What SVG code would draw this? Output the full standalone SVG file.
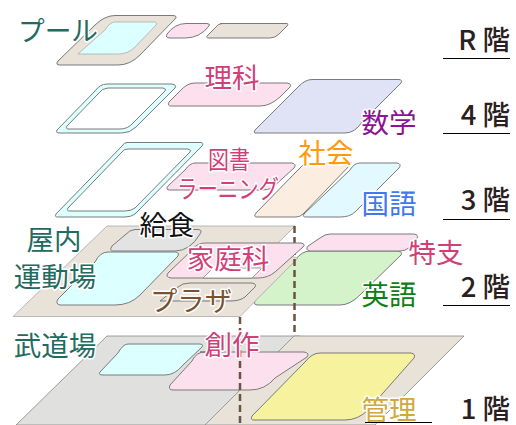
<svg xmlns="http://www.w3.org/2000/svg" width="516" height="425" viewBox="0 0 516 425">
<style>
.r{stroke:#7a7a7a;stroke-width:1;fill-rule:evenodd}
.b{fill:#e8e2d9}.p{fill:#fde0ee}.c{fill:#dcffff}.g{fill:#e3e3e3}
text{font-family:"Noto Sans CJK JP","Noto Sans",sans-serif;font-size:27.500px;paint-order:stroke;stroke:#fff;stroke-width:3px;stroke-linejoin:round}
.m{text-anchor:middle}
.t{fill:#226b60}.k{fill:#d13f78}
.s{font-size:25px}
.f{fill:#2a2020;text-anchor:end;stroke:none;font-weight:500}
.l{stroke:#000;stroke-width:1.200}
</style>
<g id="floor1">
<path fill="#e0e0de" stroke="#888" stroke-width=".8" d="M107,336H300V425H16Z"/>
<path class="b" stroke="#888" stroke-width=".8" d="M294,336H464L375,425H205Z"/>
</g>
<g id="budokan"><path class="r c" d="M128,344H199Q204,344 202,347L183,365Q175,375 165,375H103Q98,375 100,372L118,353Q123,344 128,344Z"/><text class="t m" x="55" y="356">武道場</text></g>
<g id="sosaku"><path class="r p" d="M200,352H304Q310,353 307,357L275,378Q265,390 250,390H173Q168,390 170,385L192,361Q196,352 205,352Z"/></g>
<g id="kanri"><path class="r" fill="#f6f29e" d="M320,353H411Q416,354 414,358L368,410Q358,420 345,420H254Q250,420 252,416L305,362Q312,353 320,353Z"/></g>
<g id="eigo"><path class="r" fill="#d5f3cb" d="M310,251H398Q403,252 401,255L360,295Q350,305 340,305H258Q253,305 255,301L295,260Q302,251 310,251Z"/></g>
<g id="floor2"><path class="b" stroke="#aaa" stroke-width=".8" d="M107,226H295L270,251L298,258L240,316.500H13Z"/></g>
<g id="connectors" fill="none" stroke="#6b5344" stroke-width="2.500" stroke-dasharray="7 4"><path d="M294.500,226V336"/><path d="M240,317V425"/></g>
<g id="kyushoku"><path class="r g" d="M135,229.500H198Q203,230 200,234Q190,251 175,251H113Q109,251 112,246L125,235Q130,229.500 135,229.500Z"/><text class="m" x="167" y="235" fill="#111">給食</text></g>
<g id="undojo"><path class="r c" d="M108,252H176Q180,253 178,256L140,295Q130,305 115,305H60Q55,304 58,299L95,262Q100,252 108,252Z"/><text class="t m" x="54" y="250">屋内</text><text class="t m" x="55" y="287">運動場</text></g>
<g id="katei"><path class="r p" d="M205,243H301Q306,244 303,247L275,272Q268,278 258,278H171Q165,277 168,273L192,250Q197,243 205,243Z"/><path fill="#fff" stroke="#777" stroke-width=".7" d="M203,278L213,268H262L252,278Z"/><text class="k m" x="228" y="269">家庭科</text></g>
<g id="plaza"><path class="r b" d="M190,283H252Q257,284 255,287L245,297Q240,301 230,301H160L178,287Q182,283 190,283Z"/><text x="150" y="311" textLength="82" lengthAdjust="spacingAndGlyphs" fill="#7a5230">プラザ</text></g>
<g id="tokushi"><path class="r p" d="M330,234H414Q419,235 417,238Q410,251 400,251H310Q305,250 308,246L320,238Q325,234 330,234Z"/><text class="k m" x="436" y="263">特支</text></g>
<g id="tosho"><path class="r p" d="M195,163H292Q297,164 294,168L272,188Q268,190 262,190H170Q165,190 168,186L185,170Q190,163 195,163Z"/><text class="k s" x="208" y="169" textLength="42" lengthAdjust="spacingAndGlyphs">図書</text><text class="k s" x="177" y="198" textLength="102" lengthAdjust="spacingAndGlyphs">ラーニング</text></g>
<g id="shakai"><path class="r" fill="#fbeee0" d="M305,163H352L303,214Q300,217 296,217H257Q253,217 256,213L296,172Z"/><text class="m" x="326" y="163" fill="#ff9a0a">社会</text></g>
<g id="kokugo"><path class="r" fill="#e2faff" d="M360,163H397Q402,164 399,168L355,212Q350,217 340,217H306Q302,217 304,214L350,170Q354,163 360,163Z"/><text class="m" x="389" y="214" fill="#3f78f0">国語</text></g>
<g id="ring3"><path class="r c" d="M127,142.500H201Q204,143 202,146L135,214Q131,217 125,217H58Q54,217 56,214L122,146Q124,142.500 127,142.500ZM128,149H188Q192,150 190,152L135,208Q131,211 125,211H70Q66,211 68,208L122,152Q124,149 128,149Z"/></g>
<g id="ring4"><path class="r c" d="M107,84H172Q177,85 175,88L136,127Q130,133 122,133H60Q55,133 57,130L95,91Q100,84 107,84ZM108,88H163Q167,89 165,91L133,123Q128,129 120,129H69Q65,129 67,126L98,94Q102,88 108,88Z"/></g>
<g id="rika"><path class="r p" d="M195,83H287Q292,84 290,87L280,97Q270,106 260,106H171Q167,106 169,102L180,91Q187,83 195,83Z"/><text class="k m" x="232" y="88">理科</text></g>
<g id="sugaku"><path class="r" fill="#e0e2f6" d="M312,79.500H399Q403,80 401,83L362,122Q355,133 345,133H255Q253,133 255,130L298,87Q305,79.500 312,79.500Z"/><text class="m" x="389" y="133" fill="#8a1590">数学</text></g>
<g id="pool"><path class="r b" d="M115,15.500H173Q178,16 175,19L140,55Q130,65 118,65H60Q55,65 58,61L95,25Q105,15.500 115,15.500Z"/><path class="c" stroke="#999" stroke-width=".6" d="M115,22H155Q158,23 156,25L135,47Q128,54 118,54H78L105,30Q110,22 115,22Z"/><text class="t" x="18" y="41" textLength="80" lengthAdjust="spacingAndGlyphs">プール</text></g>
<g id="poolp"><path class="r p" d="M186,23.500H207Q211,24 209,26Q200,38 185,38H170Q165,38 167,34Q175,23.500 186,23.500Z"/></g>
<g id="poolb"><path class="r b" d="M220,23.500H287Q289,24 287,26L279,34Q275,38 270,38H209Q205,38 208,35L215,28Q218,23.500 222,23.500Z"/></g>
<g id="sosaku-label"><text class="k m" x="232" y="355">創作</text></g>
<g id="kanri-label"><text x="389" y="420" class="m" fill="#cfa93e">管理</text></g>
<g id="eigo-label"><text class="m" x="389" y="305" fill="#0d8015">英語</text></g>
<g id="labels">
<text class="f" x="510" y="50">R 階</text><path class="l" d="M443,58.500H510"/>
<text class="f" x="510" y="125">4 階</text><path class="l" d="M443,133.500H510"/>
<text class="f" x="510" y="210">3 階</text><path class="l" d="M443,219.500H510"/>
<text class="f" x="510" y="297">2 階</text><path class="l" d="M443,305.500H510"/>
<text class="f" x="510" y="419">1 階</text><path class="l" d="M365,422.500H432"/>
</g>
</svg>
